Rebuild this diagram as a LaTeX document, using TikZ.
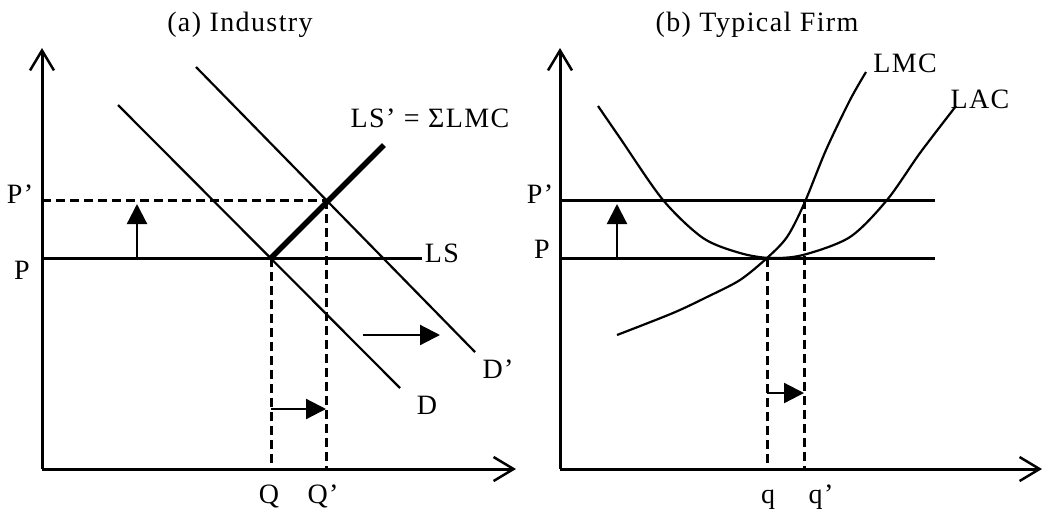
\documentclass[tikz,border=0pt]{standalone}
\usepackage{fontspec}
\setmainfont{Liberation Serif}[LetterSpace=5]
\usetikzlibrary{arrows.meta}
\begin{document}
\begin{tikzpicture}[x=1pt,y=-1pt,
  axis/.style={line width=3pt, -{Straight Barb[length=20pt,width=24pt,line width=2.5pt]}},
  curve/.style={line width=2.2pt},
  price/.style={line width=3pt},
  guide/.style={line width=3pt, dash pattern=on 9pt off 5pt},
  supply/.style={line width=5.5pt},
  movearrow/.style={line width=2.2pt, -{Triangle[length=20pt,width=20pt]}},
  lbl/.style={inner sep=0pt, anchor=base, font=\fontsize{28}{32}\selectfont}]
\useasboundingbox (0,0) rectangle (1054,515);
% ---------- (a) Industry ----------
\coordinate (O1) at (42,469);
\coordinate (Y1) at (42,48);
\coordinate (X1) at (516,469);
\coordinate (P1a) at (42,258);
\coordinate (P1b) at (422,258);
\coordinate (Pp1a) at (42,200);
\coordinate (E1) at (271,258);
\coordinate (E1p) at (326,200);
\coordinate (Da) at (118,105);
\coordinate (Db) at (400,388);
\coordinate (Dpa) at (196,67);
\coordinate (Dpb) at (475,352);
\coordinate (LSp) at (384,145);
\coordinate (Q1) at (271,469);
\coordinate (Q1p) at (326,469);
\coordinate (sa1) at (271,409);
\coordinate (sb1) at (326,409);
\coordinate (ba1) at (363,335);
\coordinate (bb1) at (440,335);
\coordinate (ua1) at (137,258);
\coordinate (ub1) at (137,204);

\draw[guide] (Pp1a) -- (E1p);
\draw[guide] (E1) -- (Q1);
\draw[guide] (E1p) -- (Q1p);
\draw[price] (P1a) -- (P1b);
\draw[curve] (Da) -- (Db);
\draw[curve] (Dpa) -- (Dpb);
\draw[supply] (E1) -- (LSp);
\draw[axis] (O1) -- (Y1);
\draw[axis] (O1) -- (X1);
\draw[movearrow] (sa1) -- (sb1);
\draw[movearrow] (ba1) -- (bb1);
\draw[movearrow] (ua1) -- (ub1);

\node[lbl] (ta) at (240,31) {(a) Industry};
\node[lbl] (tlsp) at (430,127) {LS' = ΣLMC};
\node[lbl] (tls) at (442,262) {LS};
\node[lbl] (tpp1) at (20,203) {P'};
\node[lbl] (tp1) at (22,279) {P};
\node[lbl] (tdp) at (498,378) {D'};
\node[lbl] (td) at (427,414) {D};
\node[lbl] (tq1) at (269,503) {Q};
\node[lbl] (tq1p) at (323,503) {Q'};

% ---------- (b) Typical Firm ----------
\coordinate (O2) at (560,469);
\coordinate (Y2) at (560,48);
\coordinate (X2) at (1042,469);
\coordinate (P2a) at (560,258);
\coordinate (P2b) at (935,258);
\coordinate (Pp2a) at (560,200);
\coordinate (Pp2b) at (935,200);
\coordinate (E2) at (767,258);
\coordinate (E2p) at (804,200);
\coordinate (q2) at (767,469);
\coordinate (q2p) at (804,469);
\coordinate (sa2) at (767,393);
\coordinate (sb2) at (804,393);
\coordinate (ua2) at (617,258);
\coordinate (ub2) at (617,204);

\draw[price] (P2a) -- (P2b);
\draw[price] (Pp2a) -- (Pp2b);
\draw[guide] (E2) -- (q2);
\draw[guide] (E2p) -- (q2p);
\draw[curve] plot[smooth, tension=0.5] coordinates {(617,335) (673,313) (707,297) (740,280) (767,258) (787,237) (804,204) (826,150) (850,100) (866,72)};
\draw[curve] plot[smooth, tension=0.5] coordinates {(598,106) (620,138) (663,200) (703,238) (740,253) (770,258) (803,255) (850,237) (887,200) (920,153) (956,106)};
\draw[axis] (O2) -- (Y2);
\draw[axis] (O2) -- (X2);
\draw[movearrow] (sa2) -- (sb2);
\draw[movearrow] (ua2) -- (ub2);

\node[lbl] (tb) at (757,31) {(b) Typical Firm};
\node[lbl] (tlmc) at (905,72) {LMC};
\node[lbl] (tlac) at (980,108) {LAC};
\node[lbl] (tpp2) at (540,203) {P'};
\node[lbl] (tp2) at (542,258) {P};
\node[lbl] (tq2) at (768,503) {q};
\node[lbl] (tq2p) at (821,503) {q'};
\end{tikzpicture}
\end{document}
